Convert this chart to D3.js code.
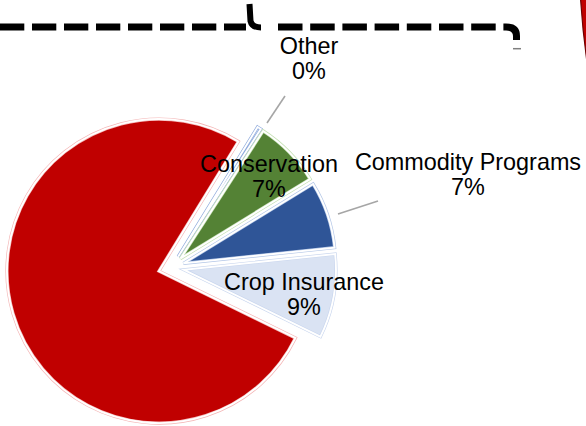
<!DOCTYPE html>
<html>
<head>
<meta charset="utf-8">
<script src="https://cdn.jsdelivr.net/npm/d3@7"></script>
<style>
  html, body { margin: 0; padding: 0; background: #ffffff; }
  svg { display: block; }
  text { font-family: "Liberation Sans", Arial, sans-serif; fill: #000; }
</style>
</head>
<body>
<svg id="chart" width="586" height="426"></svg>
<script>
// ---- data ----
const categories = ["Other", "Conservation", "Commodity Programs", "Crop Insurance", "Nutrition"];
const values = [0.4, 7.1, 7.1, 8.9, 76.5];
const showLabel = [true, true, true, true, false];

// ---- styles / layout ----
const fills = ["#dae3f3", "#548235", "#2f5597", "#dae3f3", "#c00000"];
const tints = ["#8faadc", "#c5e0b4", "#b4c7e7", "#c9d6ee", "#f4b6b6"];
const labelPos = [
  {x: 309, y: 54}, {x: 269, y: 171.5}, {x: 468, y: 169.5}, {x: 304, y: 289.5}, null
];
const leaders = [
  [[267, 123], [285, 96]], null, [[338, 214], [378, 201]], null, null
];

const svg = d3.select("#chart");
const cx = 171.3, cy = 267.5, R = 152, explode = 12.85;

const pie = d3.pie().sort(null).value(d => d.value)
  .startAngle(31.5 * Math.PI / 180)
  .endAngle(31.5 * Math.PI / 180 + 2 * Math.PI);
const arc = d3.arc().innerRadius(0).outerRadius(R);

const data = categories.map((c, i) => ({name: c, value: values[i], i}));
const arcs = pie(data);

const g = svg.append("g").attr("transform", `translate(${cx},${cy})`);
const slices = g.selectAll("g.slice").data(arcs).join("g")
  .attr("class", "slice")
  .attr("transform", d => {
    const m = (d.startAngle + d.endAngle) / 2;
    return `translate(${explode * Math.sin(m)},${-explode * Math.cos(m)})`;
  });
slices.append("path").attr("d", arc)
  .attr("fill", d => fills[d.data.i])
  .attr("stroke", d => tints[d.data.i])
  .attr("stroke-width", 3.2)
  .attr("stroke-linejoin", "miter");
slices.append("path").attr("d", arc)
  .attr("fill", "none")
  .attr("stroke", "#ffffff")
  .attr("stroke-width", 1.9);

// leader lines
leaders.forEach(l => {
  if (!l) return;
  svg.append("line").attr("x1", l[0][0]).attr("y1", l[0][1])
    .attr("x2", l[1][0]).attr("y2", l[1][1])
    .attr("stroke", "#a6a6a6").attr("stroke-width", 1.6);
});

// labels
const fmt = v => Math.round(v) + "%";
arcs.forEach(d => {
  const i = d.data.i;
  if (!showLabel[i]) return;
  const p = labelPos[i];
  const t = svg.append("text").attr("text-anchor", "middle")
    .attr("font-size", 23.4);
  t.append("tspan").attr("x", p.x).attr("y", p.y).text(d.data.name);
  t.append("tspan").attr("x", p.x).attr("y", p.y + 25).text(fmt(d.data.value));
});

// ---- top decorations (dashed brace, partial shape) ----
const deco = svg.append("g");
deco.append("path").attr("d", "M0 27 H246")
  .attr("fill", "none").attr("stroke", "#000").attr("stroke-width", 7)
  .attr("stroke-dasharray", "24.3 7.7");
deco.append("path").attr("d", "M249.5 4 L250.5 21 Q252 27.5 261 27.5")
  .attr("fill", "none").attr("stroke", "#000").attr("stroke-width", 6);
deco.append("path").attr("d", "M278 27 H506 Q516.5 27 516.5 36 V40")
  .attr("fill", "none").attr("stroke", "#000").attr("stroke-width", 7)
  .attr("stroke-dasharray", "24.5 7.7");
deco.append("line").attr("x1", 513).attr("x2", 521).attr("y1", 48.7).attr("y2", 48.7)
  .attr("stroke", "#7f7f7f").attr("stroke-width", 1.5);
deco.append("path").attr("d", "M580.5 -2 Q582.5 30 587 62 L592 62 L592 -2 Z")
  .attr("fill", "#c00000").attr("stroke", "#6b0000").attr("stroke-width", 1.2);
</script>
</body>
</html>
